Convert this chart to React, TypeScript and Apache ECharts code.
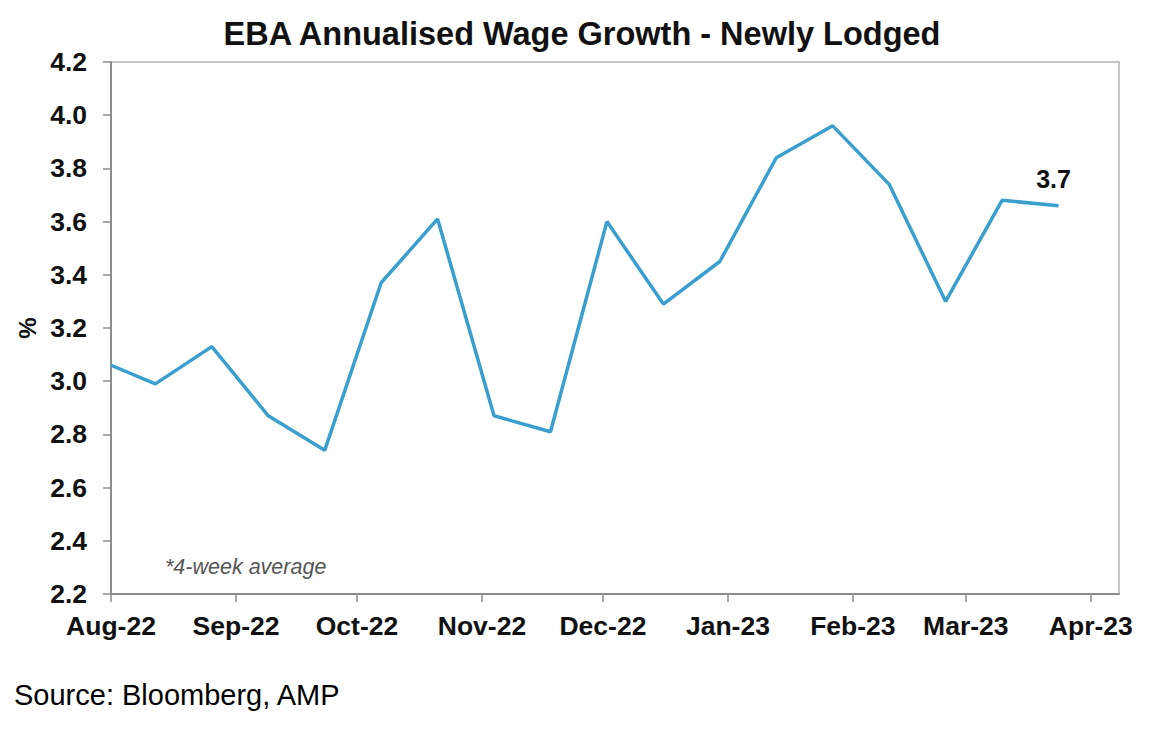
import React, { useEffect, useRef } from 'react';
import * as echarts from 'echarts';

// fortnightly readings, 4-week average (%)
const dates = [
  '2022-08-01', '2022-08-12', '2022-08-26', '2022-09-09', '2022-09-23',
  '2022-10-07', '2022-10-21', '2022-11-04', '2022-11-18', '2022-12-02',
  '2022-12-16', '2022-12-30', '2023-01-13', '2023-01-27', '2023-02-10',
  '2023-02-24', '2023-03-10', '2023-03-24'
];
const wageGrowth = [
  3.06, 2.99, 3.13, 2.87, 2.74, 3.37, 3.61, 2.87, 2.81, 3.60,
  3.29, 3.45, 3.84, 3.96, 3.74, 3.30, 3.68, 3.66
];
// month starts used for x ticks and labels
const monthTicks = [
  '2022-08-01', '2022-09-01', '2022-10-01', '2022-11-01', '2022-12-01',
  '2023-01-01', '2023-02-01', '2023-03-01', '2023-04-01'
];
const monthNames = ['Jan', 'Feb', 'Mar', 'Apr', 'May', 'Jun', 'Jul', 'Aug', 'Sep', 'Oct', 'Nov', 'Dec'];
const lastLabel = '3.7';

const FONT = 'Liberation Sans, Arial, sans-serif';

// local-time timestamp from 'yyyy-mm-dd'
const ts = (s: string) => {
  const [y, m, d] = s.split('-').map(Number);
  return new Date(y, m - 1, d).getTime();
};

const App: React.FC = () => {
  const ref = useRef<HTMLDivElement>(null);

  useEffect(() => {
    if (!ref.current) return;
    const chart = echarts.init(ref.current, null, { renderer: 'svg' });

    const tickValues = monthTicks.map(ts);
    const data = dates.map((d, i) => {
      const item: any = { value: [ts(d), wageGrowth[i]] };
      if (i === dates.length - 1) {
        item.label = {
          show: true,
          position: 'top',
          distance: 14,
          offset: [-5, 0],
          formatter: lastLabel,
          color: '#111',
          fontWeight: 'bold',
          fontSize: 25,
          fontFamily: FONT
        };
      }
      return item;
    });

    chart.setOption({
      animation: false,
      backgroundColor: '#fff',
      title: {
        text: 'EBA Annualised Wage Growth - Newly Lodged',
        left: 577,
        textAlign: 'center',
        top: 12,
        textStyle: { fontFamily: FONT, fontSize: 32.5, fontWeight: 'bold', color: '#111' }
      },
      grid: {
        left: 111,
        top: 62,
        right: 49,
        bottom: 140,
        outerBoundsMode: 'none',
        show: true,
        borderColor: '#b3b3b3',
        borderWidth: 1.5
      },
      xAxis: {
        type: 'value',
        min: ts('2022-08-01'),
        max: ts('2023-04-08'),
        axisLine: { show: true, lineStyle: { color: '#8c8c8c', width: 2 } },
        axisTick: {
          show: true,
          length: 8,
          inside: false,
          customValues: tickValues,
          lineStyle: { color: '#8c8c8c', width: 1.5 }
        },
        axisLabel: {
          customValues: tickValues,
          margin: 18,
          fontFamily: FONT,
          fontSize: 26.5,
          fontWeight: 'bold',
          color: '#111',
          hideOverlap: false,
          formatter: (v: number) => {
            const d = new Date(v);
            return monthNames[d.getMonth()] + '-' + String(d.getFullYear()).slice(2);
          }
        },
        splitLine: { show: false }
      },
      yAxis: {
        type: 'value',
        min: 2.2,
        max: 4.2,
        interval: 0.2,
        name: '%',
        nameLocation: 'middle',
        nameRotate: 90,
        nameGap: 70,
        nameTextStyle: { fontFamily: FONT, fontSize: 24, fontWeight: 'bold', color: '#111' },
        axisLine: { show: true, lineStyle: { color: '#8c8c8c', width: 2 } },
        axisTick: { show: true, length: 8, inside: false, lineStyle: { color: '#8c8c8c', width: 1.5 } },
        axisLabel: {
          margin: 24,
          fontFamily: FONT,
          fontSize: 26.5,
          fontWeight: 'bold',
          color: '#111',
          formatter: (v: number) => v.toFixed(1)
        },
        splitLine: { show: false }
      },
      graphic: [
        {
          type: 'text',
          left: 165,
          top: 556,
          style: {
            text: '*4-week average',
            fontFamily: FONT,
            fontSize: 21.5,
            fontStyle: 'italic',
            fill: '#555'
          }
        },
        {
          type: 'text',
          left: 14,
          top: 680,
          style: {
            text: 'Source: Bloomberg, AMP',
            fontFamily: FONT,
            fontSize: 29,
            fill: '#000'
          }
        }
      ],
      series: [
        {
          type: 'line',
          data,
          symbol: 'circle',
          symbolSize: 0.1,
          showAllSymbol: true,
          lineStyle: { color: '#3a9fcf', width: 3.5 },
          itemStyle: { color: '#3a9fcf' }
        }
      ]
    });

    return () => {
      chart.dispose();
    };
  }, []);

  return (
    <div
      ref={ref}
      style={{ position: 'fixed', left: 0, top: 0, width: 1168, height: 734, background: '#fff' }}
    />
  );
};

export default App;
